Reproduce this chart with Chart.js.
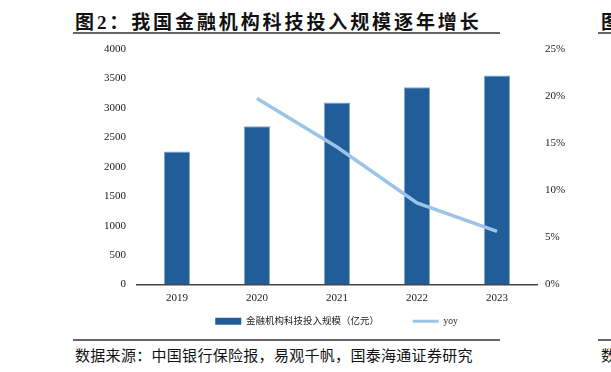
<!DOCTYPE html>
<html>
<head>
<meta charset="utf-8">
<script src="https://cdn.jsdelivr.net/npm/chart.js@4"></script>
<style>
  html, body { margin: 0; padding: 0; background: #fff; overflow: hidden; }
  body { width: 611px; height: 372px; position: relative; font-family: "Liberation Serif", "Noto Sans CJK SC", serif; }
  .title { position: absolute; left: 75px; top: 7px; font-size: 19px; letter-spacing: 2.9px; font-weight: bold; color: #111; white-space: nowrap; }
  .rule { position: absolute; height: 2px; background: #666; }
  .source { position: absolute; left: 75px; top: 344px; font-size: 15px; letter-spacing: 0.3px; color: #111; white-space: nowrap; }
  .cut { position: absolute; left: 601px; white-space: nowrap; color: #111; }
  #wrap { position: absolute; left: 0; top: 0; width: 611px; height: 336px; }
</style>
</head>
<body>
<div class="title">图2：我国金融机构科技投入规模逐年增长</div>
<div class="rule" style="left:73px; top:32px; width:427px;"></div>
<div class="cut" style="top:7px; font-size:19px; font-weight:bold;">图</div>
<div class="rule" style="left:598px; top:32px; width:13px;"></div>
<div id="wrap"><canvas id="investment-chart"></canvas></div>
<div class="rule" style="left:73px; top:339px; width:427px;"></div>
<div class="rule" style="left:598px; top:339px; width:13px;"></div>
<div class="source">数据来源：中国银行保险报，易观千帆，国泰海通证券研究</div>
<div class="cut" style="top:344px; font-size:15px;">数</div>

<script>
const years = ['2019', '2020', '2021', '2022', '2023'];
const investment = [2260, 2690, 3090, 3350, 3550];
const yoy = [null, 19.75, 14.6, 8.65, 5.64];
const leftTicks = [0, 500, 1000, 1500, 2000, 2500, 3000, 3500, 4000];
const rightTicks = [0, 5, 10, 15, 20, 25];

const investmentChart = document.getElementById('investment-chart');
const tickFont = { family: '"Liberation Serif", serif', size: 11 };

new Chart(investmentChart, {
    type: 'bar',
    data: {
        labels: years,
        datasets: [{
            label: '金融机构科技投入规模（亿元）\u3000\u3000\u3000',
            data: investment,
            backgroundColor: '#205d99',
            borderColor: '#7ea6cf',
            borderWidth: 1,
            categoryPercentage: 1,
            barPercentage: 0.325,
            yAxisID: 'y',
            order: 1
        }, {
            type: 'line',
            label: 'yoy',
            data: yoy,
            borderColor: '#9dc3e6',
            backgroundColor: '#9dc3e6',
            borderWidth: 3.5,
            pointRadius: 0,
            tension: 0,
            yAxisID: 'y1',
            order: 0
        }]
    },
    options: {
        responsive: true,
        maintainAspectRatio: false,
        animation: false,
        // left padding shifts the centred legend under the plot
        layout: { padding: { top: 49, left: 62, right: 0, bottom: 0 } },
        plugins: {
            tooltip: { enabled: false },
            legend: {
                position: 'bottom',
                labels: {
                    font: { family: '"Liberation Serif", "Noto Sans CJK SC", serif', size: 9.5 },
                    color: '#222',
                    usePointStyle: true,
                    pointStyleWidth: 26,
                    boxHeight: 7,
                    padding: 10,
                    sort: (a, b) => a.datasetIndex - b.datasetIndex,
                    generateLabels: chart => {
                        const items = Chart.defaults.plugins.legend.labels.generateLabels(chart);
                        items.forEach(item => {
                            item.pointStyle = item.datasetIndex === 0 ? 'rect' : 'line';
                            item.lineWidth = item.datasetIndex === 0 ? 0 : 3;
                        });
                        return items;
                    }
                }
            }
        },
        scales: {
            x: {
                grid: { display: false, drawTicks: false },
                border: { display: true, color: '#444', width: 1.5 },
                ticks: { font: tickFont, color: '#222', padding: 7 },
                afterFit: axis => { axis.height = 22; }
            },
            y: {
                position: 'left',
                min: 0,
                max: 4000,
                afterBuildTicks: axis => { axis.ticks = leftTicks.map(v => ({ value: v })); },
                grid: { display: false, drawTicks: false },
                border: { display: false },
                ticks: { font: tickFont, color: '#222', padding: 11, callback: v => String(v) },
                afterFit: axis => { axis.width = 75; }
            },
            y1: {
                position: 'right',
                min: 0,
                max: 25,
                afterBuildTicks: axis => { axis.ticks = rightTicks.map(v => ({ value: v })); },
                grid: { display: false, drawTicks: false },
                border: { display: false },
                ticks: { font: tickFont, color: '#222', padding: 8, callback: v => v + '%' },
                afterFit: axis => { axis.width = 74; }
            }
        }
    }
});
</script>
</body>
</html>
